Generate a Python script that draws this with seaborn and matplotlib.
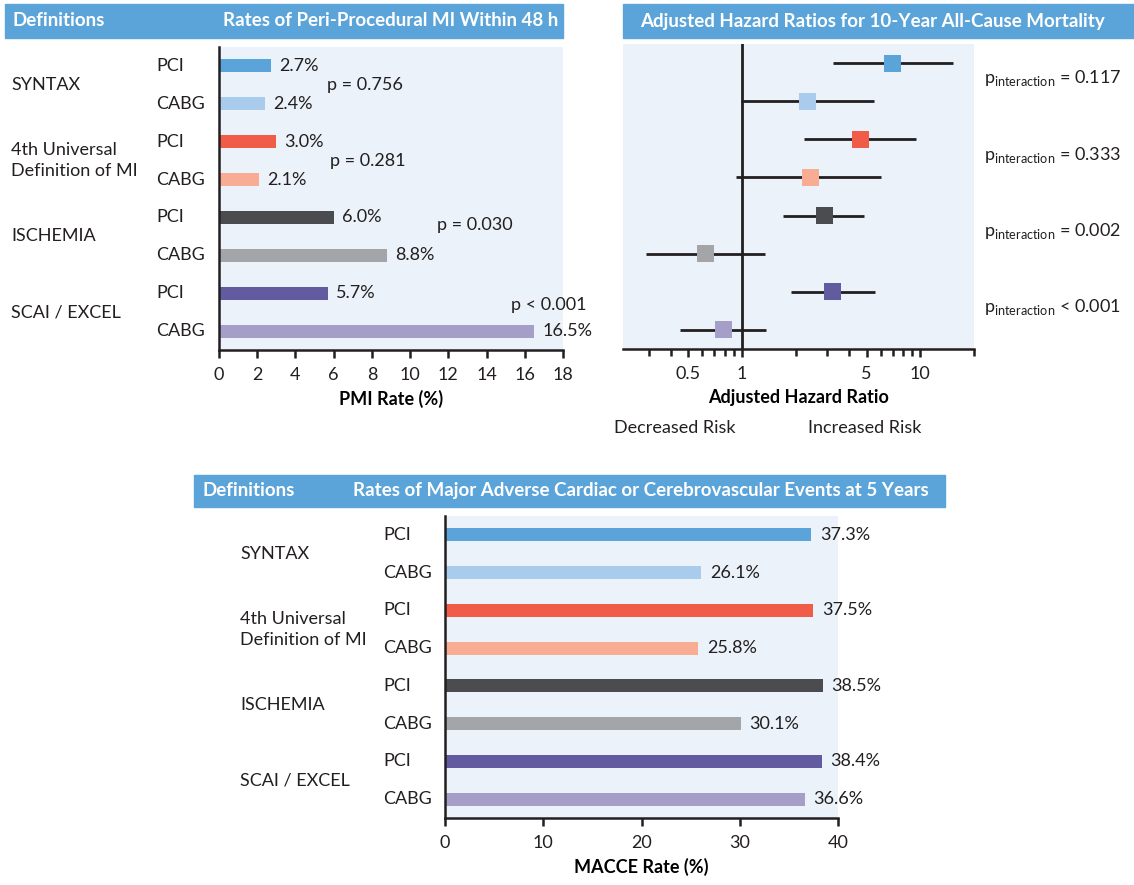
import pandas as pd
import seaborn as sns
import matplotlib.pyplot as plt
from matplotlib.patches import Rectangle
from matplotlib.transforms import blended_transform_factory

# chart values
definitions = ['SYNTAX', '4th Universal\nDefinition of MI', 'ISCHEMIA', 'SCAI / EXCEL']
arms = ['PCI', 'CABG']
pmi_rate = [2.7, 2.4, 3.0, 2.1, 6.0, 8.8, 5.7, 16.5]
pmi_pvalues = ['p = 0.756', 'p = 0.281', 'p = 0.030', 'p < 0.001']
hr_point = [7.0, 2.33, 4.63, 2.42, 2.90, 0.62, 3.23, 0.79]
hr_low = [3.25, 0.99, 2.24, 0.93, 1.70, 0.29, 1.89, 0.45]
hr_high = [15.3, 5.52, 9.44, 6.0, 4.86, 1.34, 5.54, 1.37]
interaction_p = ['= 0.117', '= 0.333', '= 0.002', '< 0.001']
macce_rate = [37.3, 26.1, 37.5, 25.8, 38.5, 30.1, 38.4, 36.6]
pmi_ticks = list(range(0, 19, 2))
macce_ticks = [0, 10, 20, 30, 40]
hr_ticks = [0.5, 1, 5, 10]
hr_minor = [0.3, 0.4, 0.6, 0.7, 0.8, 0.9, 2, 3, 4, 6, 7, 8, 9, 20]

colors = ['#5BA4DA', '#A9CCEC', '#F05C48', '#F8AC93',
          '#4B4C4F', '#A3A5A8', '#635B9F', '#A59EC9']
HEADER = '#5BA4DA'
PANEL_BG = '#EBF2FA'
INK = '#231F20'

rows = []
for i, d in enumerate(definitions):
    for j, a in enumerate(arms):
        rows.append({'definition': d, 'arm': a, 'row': f'{d} {a}', 'ypos': 2 * i + j})
df = pd.DataFrame(rows)
df['pmi'] = pmi_rate
df['macce'] = macce_rate
df['hr'] = hr_point
df['lo'] = hr_low
df['hi'] = hr_high

plt.rcParams['font.family'] = ['Lato', 'DejaVu Sans']
plt.rcParams['mathtext.fontset'] = 'custom'
plt.rcParams['mathtext.rm'] = 'Lato'
plt.rcParams['text.color'] = INK
plt.rcParams['xtick.color'] = INK

W, H = 1134, 885
fig = plt.figure(figsize=(W / 100, H / 100), dpi=100)


def rect(x0, y0, x1, y1):
    return [x0 / W, 1 - y1 / H, (x1 - x0) / W, (y1 - y0) / H]


def ftext(x, y, s, **kw):
    fig.text(x / W, 1 - y / H, s, **kw)


def header(x0, y0, x1, y1):
    fig.patches.append(Rectangle((x0 / W, 1 - y1 / H), (x1 - x0) / W, (y1 - y0) / H,
                                 transform=fig.transFigure, color=HEADER, zorder=0))


FS = 13
HFS = 13.5


def style_bar_axis(ax, xmax, ticks, xlabel):
    ax.set_facecolor(PANEL_BG)
    ax.set_xlim(0, xmax)
    ax.set_ylim(7.5, -0.5)
    ax.set_xticks(ticks)
    ax.tick_params(axis='x', direction='out', length=6, width=1.8, labelsize=FS, pad=6)
    ax.tick_params(axis='y', length=0, labelleft=False)
    for s in ['top', 'right']:
        ax.spines[s].set_visible(False)
    for s in ['left', 'bottom']:
        ax.spines[s].set_linewidth(1.8)
        ax.spines[s].set_color(INK)
    ax.set_ylabel('')
    ax.set_xlabel(xlabel, fontsize=FS, fontweight='bold', labelpad=5)


def arm_labels(ax, xg, xa):
    tr = blended_transform_factory(fig.transFigure, ax.transData)
    for i, d in enumerate(definitions):
        ax.text(xg / W, 2 * i + 0.5, d, transform=tr, ha='left', va='center',
                fontsize=FS, linespacing=1.4)
    for _, r in df.iterrows():
        ax.text(xa / W, r['ypos'], r['arm'], transform=tr, ha='left', va='center', fontsize=FS)


# ---- Peri-procedural MI bars
header(5, 4, 563, 38)
ftext(13, 21, 'Definitions', color='white', fontweight='bold', fontsize=HFS, va='center')
ftext(391, 21, 'Rates of Peri-Procedural MI Within 48 h', color='white',
      fontweight='bold', fontsize=HFS, va='center', ha='center')
ax1 = fig.add_axes(rect(219, 47, 563, 350))
sns.barplot(data=df, x='pmi', y='row', hue='row', palette=colors, width=0.34,
            saturation=1, legend=False, orient='h', ax=ax1)
style_bar_axis(ax1, 18, pmi_ticks, 'PMI Rate (%)')
for c in ax1.containers:
    ax1.bar_label(c, fmt='%.1f%%', padding=6, fontsize=FS, color=INK)
arm_labels(ax1, 11, 156)
pmi_p_pos = [(5.65, 0.5), (5.8, 2.5), (11.4, 4.2), (15.3, 6.3)]
for txt, (x, y) in zip(pmi_pvalues, pmi_p_pos):
    ax1.text(x, y, txt, ha='left', va='center', fontsize=FS)

# ---- Forest plot
header(623, 4, 1134, 38)
ftext(872, 21, 'Adjusted Hazard Ratios for 10-Year All-Cause Mortality', color='white',
      fontweight='bold', fontsize=HFS, va='center', ha='center')
ax2 = fig.add_axes(rect(623, 44, 974, 349))
ax2.set_facecolor(PANEL_BG)
ax2.hlines(df['ypos'], df['lo'], df['hi'], color=INK, lw=2.0, zorder=2)
ax2.axvline(1, color=INK, lw=2.0, zorder=2)
sns.scatterplot(data=df, x='hr', y='ypos', hue='row', palette=colors, marker='s',
                s=150, linewidth=0, legend=False, zorder=3, ax=ax2)
ax2.set_xscale('log')
ax2.set_xlim(0.215, 20)
ax2.set_ylim(7.5, -0.5)
ax2.set_xticks(hr_ticks)
ax2.set_xticklabels([f'{t:g}' for t in hr_ticks])
ax2.set_xticks(hr_minor, minor=True)
ax2.xaxis.set_minor_formatter(plt.NullFormatter())
ax2.tick_params(axis='x', which='major', direction='out', length=6, width=1.8,
                labelsize=FS, pad=6)
ax2.tick_params(axis='x', which='minor', direction='out', length=5, width=1.8)
ax2.tick_params(axis='y', length=0, labelleft=False)
for s in ['top', 'right', 'left']:
    ax2.spines[s].set_visible(False)
ax2.spines['bottom'].set_linewidth(1.8)
ax2.spines['bottom'].set_color(INK)
ax2.set_ylabel('')
ax2.set_xlabel('Adjusted Hazard Ratio', fontsize=FS, fontweight='bold', labelpad=5)
tr2 = blended_transform_factory(fig.transFigure, ax2.transData)
for i, p in enumerate(interaction_p):
    ax2.text(984 / W, 2 * i + 0.4, r'p$_{\mathrm{interaction}}$ ' + p, transform=tr2,
             ha='left', va='center', fontsize=FS)
ftext(614, 428, 'Decreased Risk', ha='left', va='center', fontsize=FS)
ftext(808, 428, 'Increased Risk', ha='left', va='center', fontsize=FS)

# ---- MACCE bars
header(194, 475, 945, 507)
ftext(202, 491, 'Definitions', color='white', fontweight='bold', fontsize=HFS, va='center')
ftext(641, 491, 'Rates of Major Adverse Cardiac or Cerebrovascular Events at 5 Years',
      color='white', fontweight='bold', fontsize=HFS, va='center', ha='center')
ax3 = fig.add_axes(rect(445, 516, 838, 818))
sns.barplot(data=df, x='macce', y='row', hue='row', palette=colors, width=0.34,
            saturation=1, legend=False, orient='h', ax=ax3)
style_bar_axis(ax3, 40, macce_ticks, 'MACCE Rate (%)')
for c in ax3.containers:
    ax3.bar_label(c, fmt='%.1f%%', padding=6, fontsize=FS, color=INK)
arm_labels(ax3, 240, 383)

fig.savefig('out.png', dpi=100)
